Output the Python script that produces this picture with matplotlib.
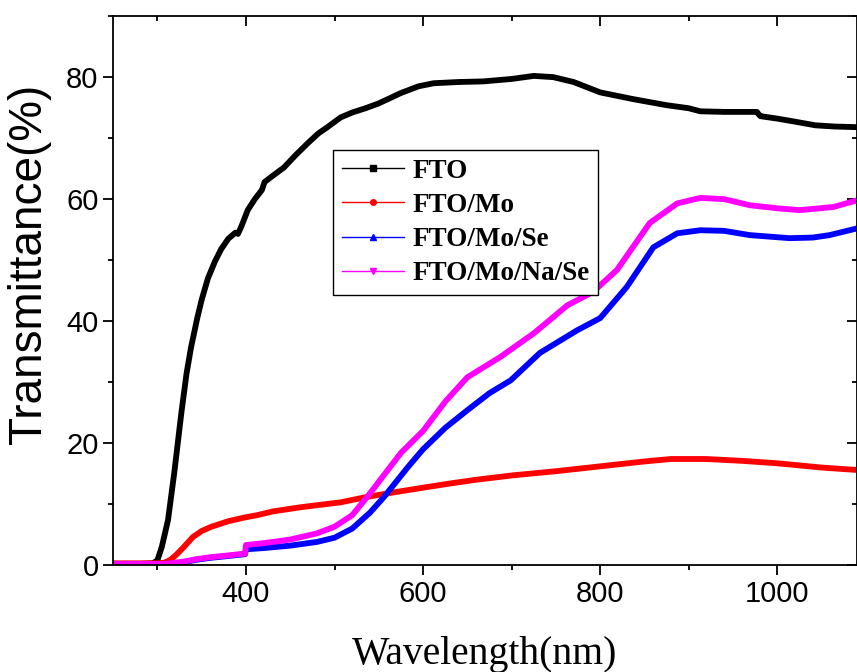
import numpy as np
import matplotlib
matplotlib.use("Agg")
import matplotlib.pyplot as plt
from matplotlib.lines import Line2D
from matplotlib.ticker import MultipleLocator

# FTO
wl_fto = [250, 280, 295, 300, 305, 312, 319, 327, 333, 338, 345, 350, 357, 365, 372, 380,
          388, 391, 395, 402, 410, 418, 421, 430, 443, 456, 470, 482, 492, 507, 520, 535,
          550, 575, 595, 612, 640, 668, 700, 725, 747, 770, 800, 837, 875, 900, 913, 940,
          977, 979, 981, 1000, 1020, 1043, 1065, 1090]
t_fto = [0.2, 0.2, 0.3, 0.8, 3.0, 7.4, 15.1, 24.9, 31.5, 35.7, 40.5, 43.5, 47.0, 49.8, 51.8, 53.5,
         54.5, 54.3, 55.6, 58.2, 60.0, 61.5, 62.8, 63.8, 65.2, 67.2, 69.2, 70.8, 71.8, 73.4, 74.2, 74.9,
         75.7, 77.4, 78.5, 79.0, 79.2, 79.3, 79.7, 80.2, 80.0, 79.2, 77.5, 76.4, 75.4, 74.9, 74.4, 74.3,
         74.3, 73.9, 73.6, 73.2, 72.7, 72.1, 71.9, 71.8]

# FTO/Mo
wl_mo = [250, 300, 308, 315, 322, 330, 340, 350, 361, 380, 398, 413, 430, 462, 507, 537,
         570, 600, 631, 660, 700, 750, 800, 850, 880, 920, 960, 1000, 1050, 1090]
t_mo = [0.3, 0.3, 0.4, 0.9, 1.8, 3.0, 4.6, 5.6, 6.3, 7.2, 7.8, 8.2, 8.8, 9.5, 10.3, 11.2,
        12.0, 12.7, 13.4, 14.0, 14.7, 15.4, 16.2, 17.0, 17.4, 17.4, 17.1, 16.7, 16.0, 15.6]

# FTO/Mo/Se
wl_se = [250, 310, 320, 330, 345, 360, 380, 399, 400, 420, 450, 480, 500, 520, 540, 556,
         583, 600, 625, 650, 675, 699, 732, 774, 800, 830, 860, 887, 913, 940, 969, 1014,
         1040, 1059, 1090]
t_se = [0.2, 0.2, 0.3, 0.5, 0.9, 1.2, 1.5, 1.8, 2.6, 2.8, 3.2, 3.8, 4.5, 6.0, 8.6, 11.2,
        16.1, 19.0, 22.5, 25.4, 28.2, 30.3, 34.8, 38.5, 40.5, 45.6, 52.1, 54.4, 54.9, 54.8, 54.1, 53.6,
        53.7, 54.1, 55.2]

# FTO/Mo/Na/Se
wl_nase = [250, 310, 320, 330, 345, 360, 380, 399, 400, 420, 450, 480, 500, 520, 537, 556,
           575, 600, 625, 650, 687, 725, 763, 792, 819, 856, 887, 913, 940, 969, 1000, 1025,
           1063, 1090]
t_nase = [0.2, 0.2, 0.4, 0.6, 1.0, 1.3, 1.6, 1.9, 3.3, 3.6, 4.2, 5.2, 6.3, 8.2, 11.2, 14.8,
          18.4, 22.0, 26.8, 30.8, 34.1, 38.0, 42.6, 44.8, 48.4, 56.1, 59.3, 60.2, 60.0, 59.0, 58.5, 58.2,
          58.7, 59.8]

labels = ["FTO", "FTO/Mo", "FTO/Mo/Se", "FTO/Mo/Na/Se"]
colors = ["black", "red", "blue", "magenta"]
markers = ["s", "o", "^", "v"]

plt.rcParams['font.family'] = ['Liberation Sans', 'DejaVu Sans']

fig = plt.figure(figsize=(8.57, 6.72), dpi=100)
ax = fig.add_axes([0.132, 0.159, 0.868, 0.817])

series = [(wl_fto, t_fto), (wl_mo, t_mo), (wl_se, t_se), (wl_nase, t_nase)]
for (wl, t), c in zip(series, colors):
    ax.plot(wl, t, color=c, lw=4.2, solid_joinstyle='round')

ax.set_xlim(250, 1090)
ax.set_ylim(0, 90)
ax.xaxis.set_major_locator(MultipleLocator(200))
ax.xaxis.set_minor_locator(MultipleLocator(100))
ax.yaxis.set_major_locator(MultipleLocator(20))
ax.yaxis.set_minor_locator(MultipleLocator(10))

ax.tick_params(which='both', labelsize=21, width=1.3)
ax.tick_params(which='major', length=7)
ax.tick_params(which='minor', length=3.5)
ax.tick_params(which='both', top=True, right=True, direction='out')
# top/right ticks point inward
for t in ax.xaxis.get_major_ticks() + ax.xaxis.get_minor_ticks():
    t.tick2line.set_marker(3)
for t in ax.yaxis.get_major_ticks() + ax.yaxis.get_minor_ticks():
    t.tick2line.set_marker(0)
for s in ax.spines.values():
    s.set_linewidth(1.3)

ax.set_xlabel("Wavelength(nm)", fontsize=28.5, family='Liberation Serif', labelpad=20)
ax.set_ylabel("Transmittance(%)", fontsize=33)
ax.yaxis.set_label_coords(-0.083, 0.548)

handles = [Line2D([0], [0], color=c, lw=1, marker=m, markersize=4)
           for c, m in zip(colors, markers)]
leg = ax.legend(handles, labels, loc='upper left', bbox_to_anchor=(0.296, 0.756),
                prop={'family': 'Liberation Serif', 'weight': 'bold', 'size': 19.5},
                frameon=True, fancybox=False, edgecolor='black', framealpha=1,
                handlelength=2.3, handletextpad=0.3, labelspacing=0.34,
                borderpad=0.32, borderaxespad=0)
leg.get_frame().set_linewidth(1.0)

fig.savefig("out.png", dpi=100)
